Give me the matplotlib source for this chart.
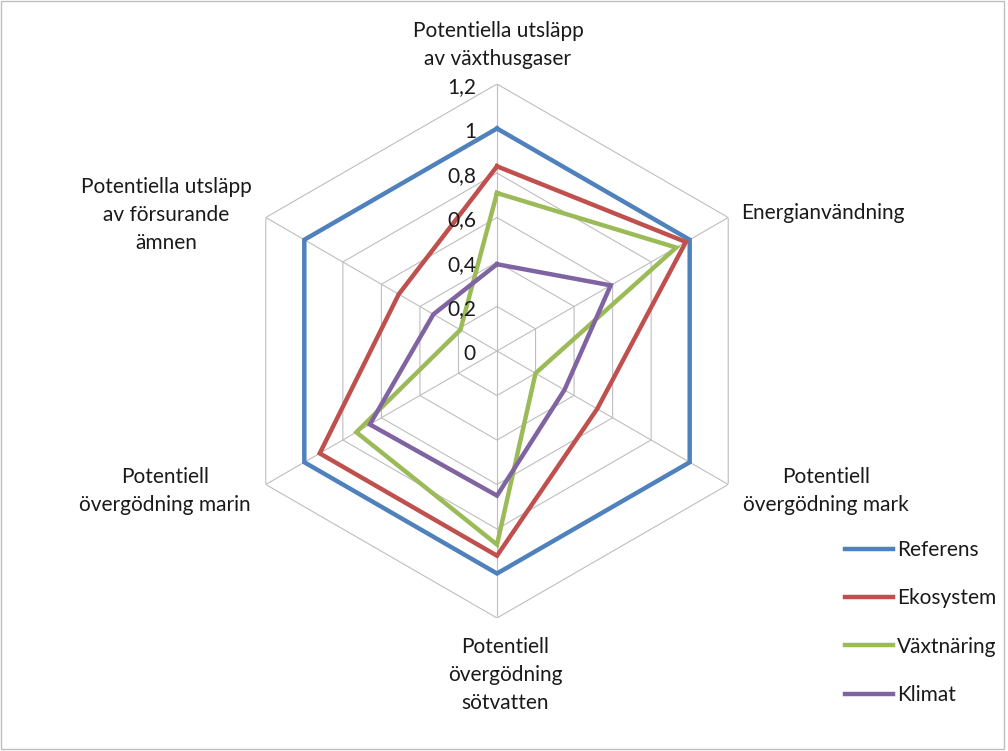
import numpy as np
import matplotlib
matplotlib.use("Agg")
import matplotlib.pyplot as plt
from matplotlib.patches import Rectangle

plt.rcParams['font.family'] = ['Lato', 'DejaVu Sans']

categories = [
    "Potentiella utsläpp\nav växthusgaser",
    "Energianvändning",
    "Potentiell\növergödning mark",
    "Potentiell\növergödning\nsötvatten",
    "Potentiell\növergödning marin",
    "Potentiella utsläpp\nav försurande\nämnen",
]
series_names = ["Referens", "Ekosystem", "Växtnäring", "Klimat"]
referens = [1.0, 1.0, 1.0, 1.0, 1.0, 1.0]
ekosystem = [0.83, 0.98, 0.52, 0.92, 0.92, 0.51]
vaxtnaring = [0.71, 0.93, 0.20, 0.87, 0.73, 0.19]
klimat = [0.39, 0.59, 0.35, 0.65, 0.66, 0.33]
tick_values = [0, 0.2, 0.4, 0.6, 0.8, 1.0, 1.2]
tick_labels = ["0", "0,2", "0,4", "0,6", "0,8", "1", "1,2"]

colors = ["#4F81BD", "#C0504D", "#9BBB59", "#8064A2"]
series = [referens, ekosystem, vaxtnaring, klimat]

W, H = 1008, 751
fig = plt.figure(figsize=(W / 100, H / 100), dpi=100)

cx, cy, R = 497, 351, 267
ax = fig.add_axes([(cx - R) / W, (H - cy - R) / H, 2 * R / W, 2 * R / H], projection='polar')
ax.set_theta_zero_location('N')
ax.set_theta_direction(-1)
ax.set_ylim(0, 1.2)
ax.grid(False)
ax.spines['polar'].set_visible(False)
ax.set_xticks([])
ax.set_yticks([])
ax.patch.set_alpha(0)

n = len(categories)
angles = np.arange(n) * 2 * np.pi / n
closed = np.append(angles, angles[0])

grid_color = "#BEBEBE"
for tv in tick_values[1:]:
    ax.plot(closed, [tv] * (n + 1), color=grid_color, lw=0.8, zorder=1)
for a in angles:
    ax.plot([a, a], [0, 1.2], color=grid_color, lw=0.8, zorder=1)

for name, vals, c in zip(series_names, series, colors):
    v = list(vals) + [vals[0]]
    ax.plot(closed, v, color=c, lw=3.2, label=name, zorder=3, solid_joinstyle='miter')

txt_color = '#1a1a1a'
fs = 15
for tv, tl in zip(tick_values, tick_labels):
    ax.annotate(tl, xy=(0, tv), xytext=(-21, -3), textcoords='offset pixels',
                ha='right', va='center', fontsize=fs, color=txt_color, zorder=4)

# category labels (pixel positions of label anchors)
label_pos = [
    (498, 45, 'center'),
    (741, 213, 'left'),
    (826, 491, 'center'),
    (505, 675, 'center'),
    (165, 491, 'center'),
    (166, 215, 'center'),
]
for lab, (px, py, ha) in zip(categories, label_pos):
    fig.text(px / W, 1 - py / H, lab, ha=ha, va='center', fontsize=fs,
             color=txt_color, linespacing=1.5, multialignment='center')

leg = fig.legend(loc='upper left', bbox_to_anchor=(845 / W, 1 - 540 / H),
                 frameon=False, fontsize=fs, handlelength=2.3, handletextpad=0.2,
                 labelspacing=1.36, borderpad=0, borderaxespad=0)
for t in leg.get_texts():
    t.set_color(txt_color)

fig.patches.append(Rectangle((1 / W, 2 / H), (W - 5) / W, (H - 3) / H,
                             transform=fig.transFigure, fill=False,
                             edgecolor='#BFBFBF', lw=1))

fig.savefig("out.png", dpi=100)
